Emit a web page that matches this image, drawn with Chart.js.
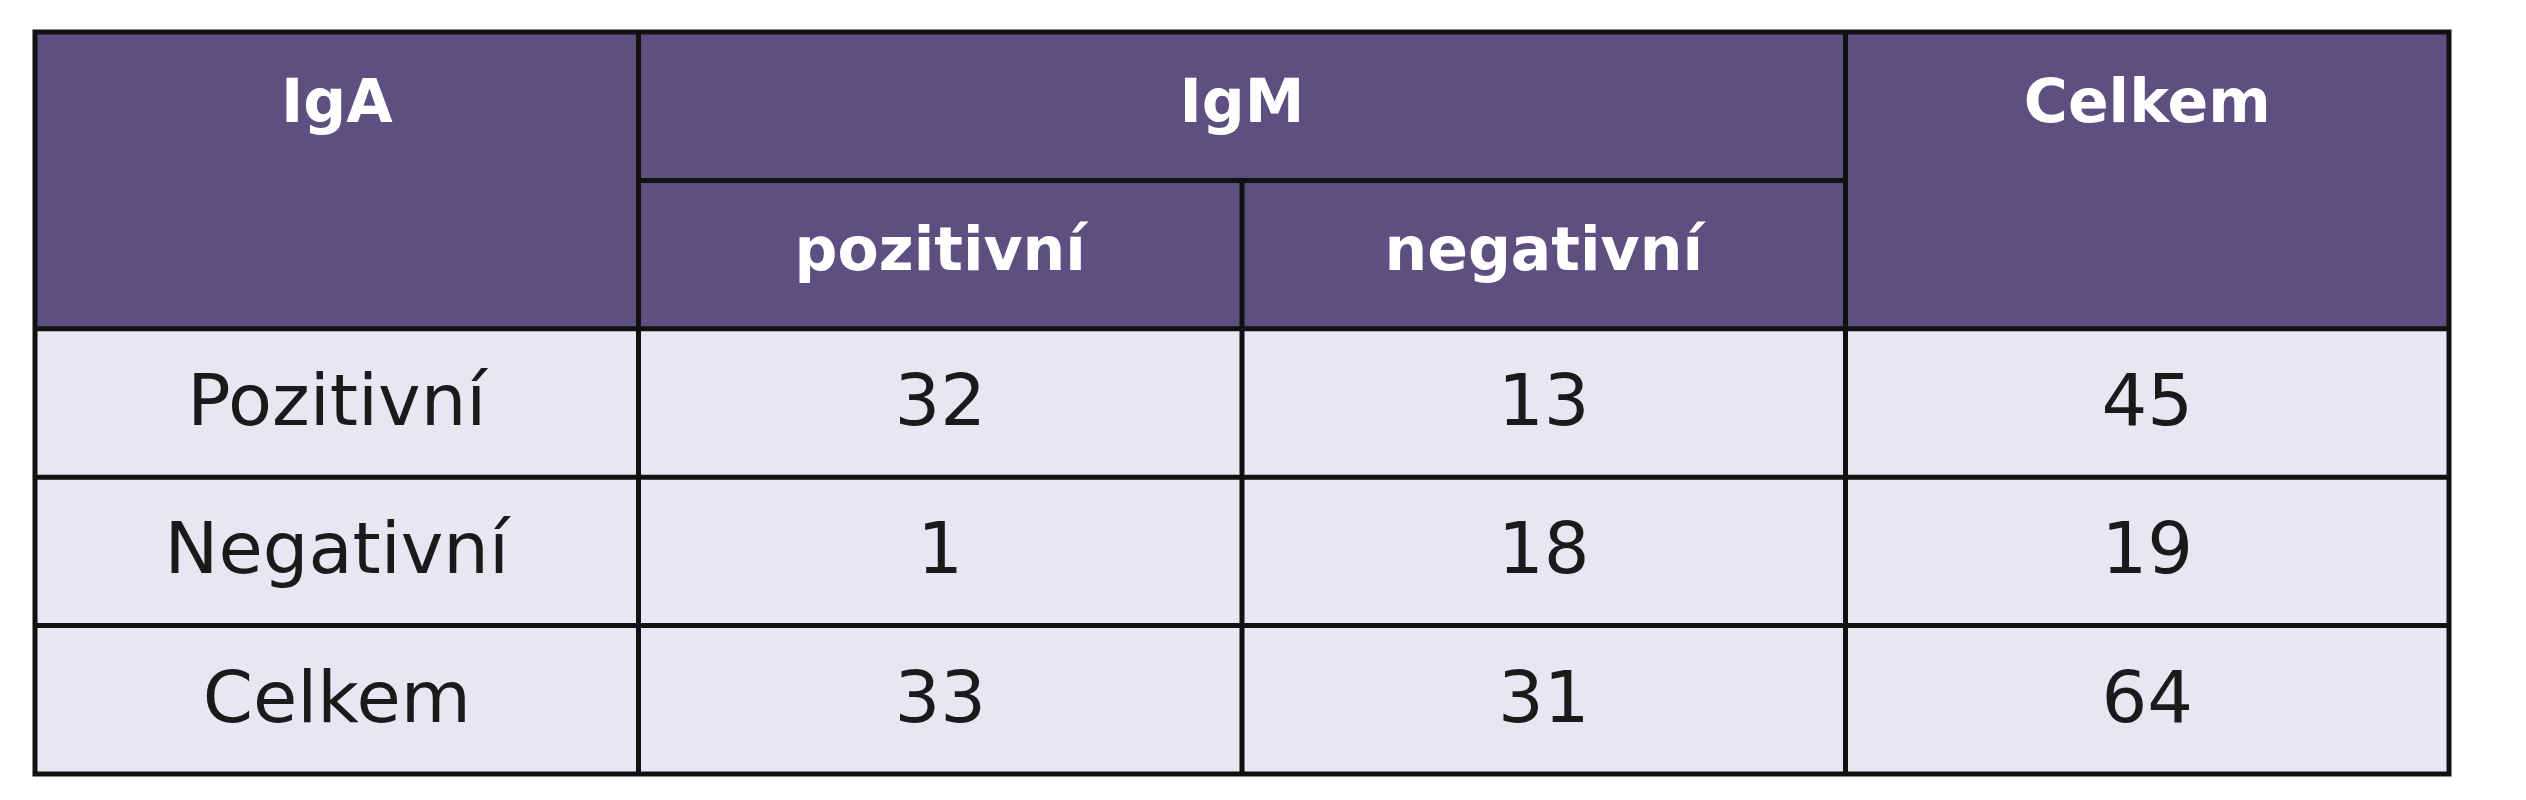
<!DOCTYPE html>
<html><head><meta charset="utf-8">
<script src="https://cdn.jsdelivr.net/npm/chart.js@4"></script>
<style>html,body{margin:0;padding:0;background:#fff}#w{width:2526px;height:800px}</style>
</head><body><div id="w"><canvas id="c"></canvas></div>
<script>
const headerTop = ["IgA", "IgM", "Celkem"];
const headerSub = ["pozitivní", "negativní"];
const rowLabels = ["Pozitivní", "Negativní", "Celkem"];
const igmPositive = [32, 1, 33];
const igmNegative = [13, 18, 31];
const totals = [45, 19, 64];

const HEAD = "#5d4f80", BODY = "#e8e6f3", LINE = "#111";
const pts = [];
rowLabels.forEach((r, i) => {
  pts.push({x: 0.5, y: i + 2.5, t: r});
  pts.push({x: 1.5, y: i + 2.5, t: String(igmPositive[i])});
  pts.push({x: 2.5, y: i + 2.5, t: String(igmNegative[i])});
  pts.push({x: 3.5, y: i + 2.5, t: String(totals[i])});
});

const tablePlugin = {
  id: 'table',
  afterDatasetsDraw(chart) {
    const ctx = chart.ctx, xs = chart.scales.x, ys = chart.scales.y;
    const X = v => xs.getPixelForValue(v), Y = v => ys.getPixelForValue(v);
    ctx.save();
    ctx.fillStyle = HEAD; ctx.fillRect(X(0), Y(0), X(4) - X(0), Y(2) - Y(0));
    ctx.fillStyle = BODY; ctx.fillRect(X(0), Y(2), X(4) - X(0), Y(5) - Y(2));
    ctx.strokeStyle = LINE; ctx.lineWidth = 5;
    const line = (x1, y1, x2, y2) => { ctx.beginPath(); ctx.moveTo(X(x1), Y(y1)); ctx.lineTo(X(x2), Y(y2)); ctx.stroke(); };
    ctx.strokeRect(X(0), Y(0), X(4) - X(0), Y(5) - Y(0));
    [2, 3, 4].forEach(r => line(0, r, 4, r));
    line(1, 1, 3, 1);
    line(1, 0, 1, 5); line(3, 0, 3, 5); line(2, 1, 2, 5);
    ctx.textAlign = 'center'; ctx.textBaseline = 'middle';
    try { ctx.fontStretch = 'condensed'; } catch (e) {}
    ctx.fillStyle = '#fff';
    ctx.font = "bold 60px 'DejaVu Sans'";
    ctx.fillText(headerTop[0], X(0.5), Y(0.5));
    ctx.fillText(headerTop[1], X(2), Y(0.5));
    ctx.fillText(headerTop[2], X(3.5), Y(0.5));
    ctx.fillText(headerSub[0], X(1.5), Y(1.5));
    ctx.fillText(headerSub[1], X(2.5), Y(1.5));
    ctx.fillStyle = '#1a1a1a';
    ctx.font = "72px 'DejaVu Sans'";
    pts.forEach(p => ctx.fillText(p.t, X(p.x), Y(p.y) + 3));
    ctx.restore();
  }
};

new Chart(document.getElementById('c'), {
  type: 'scatter',
  data: { datasets: [{ data: pts, pointRadius: 0 }] },
  options: {
    responsive: true, maintainAspectRatio: false, animation: false,
    layout: { padding: { left: 35, top: 32, right: 77, bottom: 26 } },
    plugins: { legend: { display: false }, tooltip: { enabled: false } },
    scales: {
      x: { type: 'linear', min: 0, max: 4, display: false },
      y: { type: 'linear', min: 0, max: 5, reverse: true, display: false }
    }
  },
  plugins: [tablePlugin]
});
</script></body></html>
